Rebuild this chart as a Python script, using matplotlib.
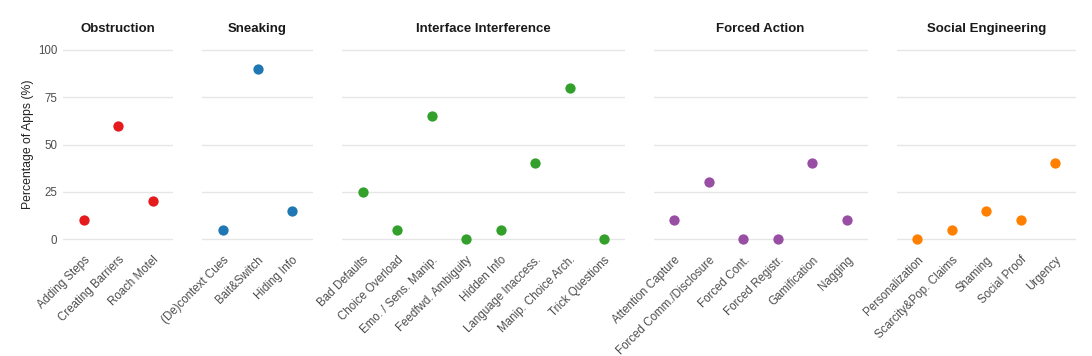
import matplotlib
matplotlib.use("Agg")
import matplotlib.pyplot as plt

plt.rcParams['font.family'] = ['Liberation Sans', 'DejaVu Sans']

groups = ["Obstruction", "Sneaking", "Interface Interference", "Forced Action", "Social Engineering"]
colors = ["#E41A1C", "#1F78B4", "#33A02C", "#984EA3", "#FF7F00"]

obstruction_cats = ["Adding Steps", "Creating Barriers", "Roach Motel"]
obstruction_vals = [10, 60, 20]
sneaking_cats = ["(De)context Cues", "Bait&Switch", "Hiding Info"]
sneaking_vals = [5, 90, 15]
interface_cats = ["Bad Defaults", "Choice Overload", "Emo. / Sens. Manip.", "Feedfwd. Ambiguity",
                  "Hidden Info", "Language Inaccess.", "Manip. Choice Arch.", "Trick Questions"]
interface_vals = [25, 5, 65, 0, 5, 40, 80, 0]
forced_cats = ["Attention Capture", "Forced Comm./Disclosure", "Forced Cont.", "Forced Registr.",
               "Gamification", "Nagging"]
forced_vals = [10, 30, 0, 0, 40, 10]
social_cats = ["Personalization", "Scarcity&Pop. Claims", "Shaming", "Social Proof", "Urgency"]
social_vals = [0, 5, 15, 10, 40]

panels = [(obstruction_cats, obstruction_vals), (sneaking_cats, sneaking_vals),
          (interface_cats, interface_vals), (forced_cats, forced_vals),
          (social_cats, social_vals)]

W, H = 1092, 356
fig = plt.figure(figsize=(W / 100, H / 100), dpi=100)

unit = 34.5
gap = 29
x0 = 63
top, bottom = 40.5, 248.5

for i, (cats, vals) in enumerate(panels):
    n = len(cats)
    w = (n + 0.2) * unit
    ax = fig.add_axes([x0 / W, (H - bottom) / H, w / W, (bottom - top) / H])
    x0 += w + gap
    ax.scatter(range(n), vals, s=55, color=colors[i], zorder=3, linewidths=0)
    ax.set_xlim(-0.6, n - 0.4)
    ax.set_ylim(-5, 105)
    ax.set_yticks([0, 25, 50, 75, 100])
    ax.grid(axis='y', color='#E6E6E6', linewidth=1.0)
    ax.set_axisbelow(True)
    for s in ax.spines.values():
        s.set_visible(False)
    ax.tick_params(length=0, labelsize=8.3, colors='#4D4D4D', pad=4)
    ax.set_xticks(range(n))
    ax.set_xticklabels(cats, rotation=45, ha='right', va='top', rotation_mode='anchor')
    if i == 0:
        ax.set_ylabel("Percentage of Apps (%)", fontsize=8.8, color='#222222', labelpad=3)
    else:
        ax.tick_params(axis='y', labelleft=False)
    ax.set_title(groups[i], fontsize=9.5, fontweight='bold', color='#1A1A1A', pad=6)

fig.savefig("out.png", dpi=100, facecolor='white')
